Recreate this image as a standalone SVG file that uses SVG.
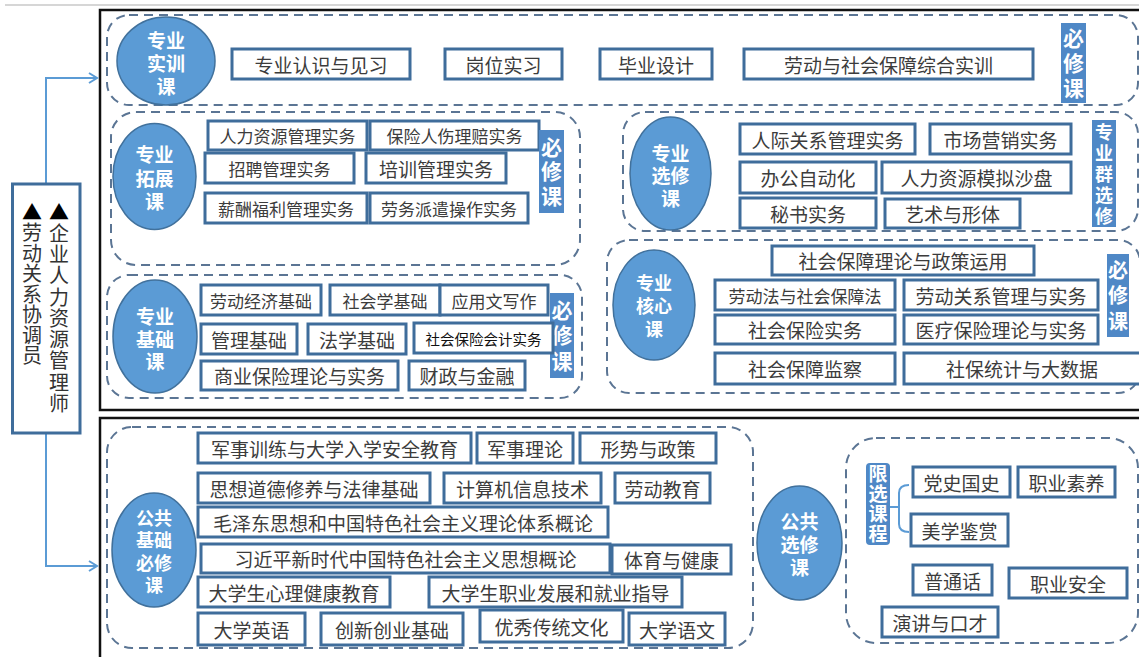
<svg xmlns="http://www.w3.org/2000/svg" width="1139" height="657" viewBox="0 0 1139 657">
<style>
.box{fill:#fff;stroke:#3f6d9b;stroke-width:3}
.grp{fill:none;stroke:#5b7594;stroke-width:2;stroke-dasharray:9 6}
.ell{fill:#5b9bd5;stroke:#41719c;stroke-width:1.5}
.lab{fill:#4f88c6}
.frame{fill:none;stroke:#111;stroke-width:2.5}
.t{font-family:"Noto Sans CJK SC","Noto Sans",sans-serif;font-size:19px;fill:#3c3c3c;text-anchor:middle;dominant-baseline:central}
.vt{font-family:"Noto Sans CJK SC","Noto Sans",sans-serif;writing-mode:vertical-rl;text-anchor:start;dominant-baseline:central}
.s17{font-size:17px}
.s14{font-size:14.5px;fill:#111}
.w{fill:#fff;font-weight:bold}
.conn{fill:none;stroke:#5b9bd5;stroke-width:2}
</style>
<defs>
<marker id="arr" markerUnits="userSpaceOnUse" markerWidth="12" markerHeight="12" refX="10" refY="6" orient="auto">
<path d="M2,1 L10,6 L2,11" fill="none" stroke="#5b9bd5" stroke-width="2"/>
</marker>
</defs>
<rect width="1139" height="657" fill="#fff"/>
<line x1="5" y1="5" x2="1139" y2="5" stroke="#d6d6d6" stroke-width="2"/>
<rect class="frame" x="100" y="10" width="1050" height="400"/>
<rect class="frame" x="100" y="418" width="1050" height="250"/>

<g id="connectors">
<polyline class="conn" points="46,207 46,78 97,78" marker-end="url(#arr)"/>
<polyline class="conn" points="46,433 46,566 97,566" marker-end="url(#arr)"/>
<path class="conn" d="M890,507 L899,507 M909,485 Q899,485 899,493 L899,524 Q899,532 909,532"/>
</g>

<g id="roles">
<rect x="12.5" y="184" width="67.5" height="249" fill="#fff" stroke="#3f6d9b" stroke-width="3"/>
<text class="vt" x="59" y="202" style="font-size:20px;letter-spacing:1.25px;fill:#333"><tspan style="fill:#000">▲</tspan>企业人力资源管理师</text>
<text class="vt" x="32" y="202" style="font-size:20px;letter-spacing:0.5px;fill:#333"><tspan style="fill:#000">▲</tspan>劳动关系协调员</text>
</g>

<!-- 专业实训课 -->
<g id="g-shixun">
<rect class="grp" x="107" y="15" width="1031" height="90" rx="22"/>
<g id="e-shixun"><ellipse class="ell" cx="166" cy="61" rx="49" ry="44"/>
<text class="t w"><tspan x="166" y="39">专业</tspan><tspan x="166" y="62">实训</tspan><tspan x="166" y="85">课</tspan></text></g>
<g id="b-zyrs"><rect class="box" x="232" y="49" width="178" height="30"/><text class="t" x="321" y="64">专业认识与见习</text></g>
<g id="b-gwsx"><rect class="box" x="445" y="49" width="117" height="30"/><text class="t" x="503.5" y="64">岗位实习</text></g>
<g id="b-bysj"><rect class="box" x="600" y="49" width="112" height="30"/><text class="t" x="656" y="64">毕业设计</text></g>
<g id="b-ldsb"><rect class="box" x="744" y="49" width="289" height="30"/><text class="t" x="888.5" y="64">劳动与社会保障综合实训</text></g>
<g id="l-shixun"><rect class="lab" x="1061" y="23" width="25" height="80"/>
<text class="vt w" x="1073.5" y="27.5" style="font-size:21px;letter-spacing:4px">必修课</text></g>
</g>

<!-- 专业拓展课 -->
<g id="g-tuozhan">
<rect class="grp" x="111" y="112" width="469" height="153" rx="25"/>
<g id="e-tuozhan"><ellipse class="ell" cx="154.5" cy="176.5" rx="41.5" ry="53"/>
<text class="t w"><tspan x="154.5" y="153">专业</tspan><tspan x="154.5" y="177">拓展</tspan><tspan x="154.5" y="200">课</tspan></text></g>
<g id="b-rlzy"><rect class="box" x="208" y="121" width="159" height="29"/><text class="t s17" x="287.5" y="135.5">人力资源管理实务</text></g>
<g id="b-bxrs"><rect class="box" x="370" y="121" width="169" height="29"/><text class="t s17" x="454.5" y="135.5">保险人伤理赔实务</text></g>
<g id="b-zpgl"><rect class="box" x="205" y="153" width="149" height="30"/><text class="t s17" x="279.5" y="168">招聘管理实务</text></g>
<g id="b-pxgl"><rect class="box" x="366" y="153" width="140" height="30"/><text class="t" x="436" y="168">培训管理实务</text></g>
<g id="b-xcfl"><rect class="box" x="205" y="193" width="162" height="30"/><text class="t s17" x="286" y="208">薪酬福利管理实务</text></g>
<g id="b-lwpq"><rect class="box" x="370" y="193" width="158" height="30"/><text class="t s17" x="449" y="208">劳务派遣操作实务</text></g>
<g id="l-tuozhan"><rect class="lab" x="539" y="130" width="25" height="83"/>
<text class="vt w" x="551.5" y="136.5" style="font-size:21px;letter-spacing:3.5px">必修课</text></g>
</g>

<!-- 专业选修课 -->
<g id="g-xuanxiu">
<rect class="grp" x="623" y="112" width="515" height="119" rx="22"/>
<g id="e-xuanxiu"><ellipse class="ell" cx="670.5" cy="173.5" rx="40.5" ry="56.5"/>
<text class="t w"><tspan x="670.5" y="152">专业</tspan><tspan x="670.5" y="174">选修</tspan><tspan x="670.5" y="197">课</tspan></text></g>
<g id="b-rjgx"><rect class="box" x="740" y="124" width="175" height="30"/><text class="t" x="827.5" y="139">人际关系管理实务</text></g>
<g id="b-scyx"><rect class="box" x="930" y="124" width="141" height="30"/><text class="t" x="1000.5" y="139">市场营销实务</text></g>
<g id="b-bgzd"><rect class="box" x="740" y="162" width="136" height="31"/><text class="t" x="808" y="177.5">办公自动化</text></g>
<g id="b-rlsp"><rect class="box" x="882" y="162" width="189" height="31"/><text class="t" x="976.5" y="177.5">人力资源模拟沙盘</text></g>
<g id="b-mssw"><rect class="box" x="740" y="198" width="136" height="30"/><text class="t" x="808" y="213">秘书实务</text></g>
<g id="b-ysxt"><rect class="box" x="885" y="199" width="135" height="29"/><text class="t" x="952.5" y="213.5">艺术与形体</text></g>
<g id="l-xuanxiu"><rect class="lab" x="1092" y="120" width="24" height="107"/>
<text class="vt w" x="1104" y="123" style="font-size:18px;letter-spacing:3px">专业群选修</text></g>
</g>

<!-- 专业基础课 -->
<g id="g-jichu">
<rect class="grp" x="107" y="275" width="475" height="123" rx="22"/>
<g id="e-jichu"><ellipse class="ell" cx="155" cy="336.5" rx="42" ry="56.5"/>
<text class="t w"><tspan x="155" y="315">专业</tspan><tspan x="155" y="338">基础</tspan><tspan x="155" y="360">课</tspan></text></g>
<g id="l-jichu"><rect class="lab" x="550" y="293" width="24" height="85"/>
<text class="vt w" x="562" y="299.5" style="font-size:21px;letter-spacing:4.5px">必修课</text></g>
<g id="b-ldjj"><rect class="box" x="201" y="285" width="120" height="30"/><text class="t s17" x="261" y="300">劳动经济基础</text></g>
<g id="b-shxj"><rect class="box" x="330" y="285" width="110" height="30"/><text class="t s17" x="385" y="300">社会学基础</text></g>
<g id="b-yywx"><rect class="box" x="440" y="285" width="108" height="30"/><text class="t s17" x="494" y="300">应用文写作</text></g>
<g id="b-gljc"><rect class="box" x="201" y="324" width="96" height="30"/><text class="t" x="249" y="339">管理基础</text></g>
<g id="b-fxjc"><rect class="box" x="308" y="324" width="98" height="30"/><text class="t" x="357" y="339">法学基础</text></g>
<g id="b-shbxkj"><rect class="box" x="414" y="323" width="139" height="30"/><text class="t s14" x="483.5" y="338">社会保险会计实务</text></g>
<g id="b-syb"><rect class="box" x="201" y="361" width="197" height="29"/><text class="t" x="299.5" y="375.5">商业保险理论与实务</text></g>
<g id="b-czjr"><rect class="box" x="409" y="361" width="116" height="29"/><text class="t" x="467" y="375.5">财政与金融</text></g>
</g>

<!-- 专业核心课 -->
<g id="g-hexin">
<rect class="grp" x="607" y="240" width="533" height="153" rx="22"/>
<g id="e-hexin"><ellipse class="ell" cx="654" cy="305" rx="41" ry="55"/>
<text class="t w" style="font-size:18px"><tspan x="654" y="282">专业</tspan><tspan x="654" y="305">核心</tspan><tspan x="654" y="328">课</tspan></text></g>
<g id="b-shbzll"><rect class="box" x="772" y="246" width="262" height="29"/><text class="t" x="903" y="260.5">社会保障理论与政策运用</text></g>
<g id="b-ldf"><rect class="box" x="715" y="280" width="180" height="30"/><text class="t s17" x="805" y="295">劳动法与社会保障法</text></g>
<g id="b-ldgx"><rect class="box" x="904" y="280" width="194" height="30"/><text class="t" x="1001" y="295">劳动关系管理与实务</text></g>
<g id="b-shbxsw"><rect class="box" x="715" y="315" width="180" height="29"/><text class="t" x="805" y="329.5">社会保险实务</text></g>
<g id="b-ylbx"><rect class="box" x="904" y="315" width="194" height="29"/><text class="t" x="1001" y="329.5">医疗保险理论与实务</text></g>
<g id="b-shbzjc"><rect class="box" x="715" y="353" width="180" height="31"/><text class="t" x="805" y="368.5">社会保障监察</text></g>
<g id="b-sbtj"><rect class="box" x="904" y="353" width="238" height="31"/><text class="t" x="1022" y="368.5">社保统计与大数据</text></g>
<g id="l-hexin"><rect class="lab" x="1107" y="254" width="22" height="83"/>
<text class="vt w" x="1118" y="260" style="font-size:20px;letter-spacing:5.5px">必修课</text></g>
</g>

<!-- 公共基础必修课 -->
<g id="g-gongji">
<rect class="grp" x="107" y="427" width="646" height="221" rx="25"/>
<g id="e-gongji"><ellipse class="ell" cx="154" cy="550" rx="42" ry="57"/>
<text class="t w" style="font-size:18px"><tspan x="154" y="517">公共</tspan><tspan x="154" y="539">基础</tspan><tspan x="154" y="562">必修</tspan><tspan x="154" y="584">课</tspan></text></g>
<g id="b-jsxl"><rect class="box" x="198" y="433" width="273" height="30"/><text class="t" x="334.5" y="448">军事训练与大学入学安全教育</text></g>
<g id="b-jsll"><rect class="box" x="477" y="433" width="96" height="30"/><text class="t" x="525" y="448">军事理论</text></g>
<g id="b-xszc"><rect class="box" x="580" y="433" width="136" height="30"/><text class="t" x="648" y="448">形势与政策</text></g>
<g id="b-sxdd"><rect class="box" x="198" y="473" width="232" height="30"/><text class="t" x="314" y="488">思想道德修养与法律基础</text></g>
<g id="b-jsj"><rect class="box" x="444" y="473" width="157" height="30"/><text class="t" x="522.5" y="488">计算机信息技术</text></g>
<g id="b-ldjy"><rect class="box" x="615" y="473" width="95" height="30"/><text class="t" x="662.5" y="488">劳动教育</text></g>
<g id="b-mzd"><rect class="box" x="198" y="507" width="410" height="30"/><text class="t" x="403" y="522">毛泽东思想和中国特色社会主义理论体系概论</text></g>
<g id="b-xjp"><rect class="box" x="201" y="544" width="409" height="29"/><text class="t" x="405.5" y="558.5">习近平新时代中国特色社会主义思想概论</text></g>
<g id="b-tyjk"><rect class="box" x="612" y="545" width="119" height="29"/><text class="t" x="671.5" y="559.5">体育与健康</text></g>
<g id="b-xljk"><rect class="box" x="198" y="577" width="192" height="30"/><text class="t" x="294" y="592">大学生心理健康教育</text></g>
<g id="b-zyfz"><rect class="box" x="429" y="577" width="253" height="30"/><text class="t" x="555.5" y="592">大学生职业发展和就业指导</text></g>
<g id="b-dxyy"><rect class="box" x="198" y="613" width="107" height="32"/><text class="t" x="251.5" y="629">大学英语</text></g>
<g id="b-cxcy"><rect class="box" x="321" y="613" width="142" height="32"/><text class="t" x="392" y="629">创新创业基础</text></g>
<g id="b-yxct"><rect class="box" x="480" y="610" width="143" height="32"/><text class="t" x="551.5" y="626">优秀传统文化</text></g>
<g id="b-dxyw"><rect class="box" x="629" y="613" width="96" height="32"/><text class="t" x="677" y="629">大学语文</text></g>
</g>

<!-- 公共选修课 -->
<g id="g-gongxuan">
<rect class="grp" x="846" y="438" width="292" height="205" rx="30"/>
<g id="e-gongxuan"><ellipse class="ell" cx="799.5" cy="543" rx="42.5" ry="57"/>
<text class="t w"><tspan x="799.5" y="520">公共</tspan><tspan x="799.5" y="543">选修</tspan><tspan x="799.5" y="566">课</tspan></text></g>
<g id="l-xianxuan"><rect class="lab" x="866" y="463" width="24" height="82" rx="4"/>
<text class="vt w" x="878" y="464.5" style="font-size:19px;letter-spacing:1px">限选课程</text></g>
<g id="b-dsgs"><rect class="box" x="913" y="467" width="97" height="30"/><text class="t" x="961.5" y="482">党史国史</text></g>
<g id="b-zysy"><rect class="box" x="1018" y="467" width="97" height="30"/><text class="t" x="1066.5" y="482">职业素养</text></g>
<g id="b-mxjs"><rect class="box" x="911" y="514" width="97" height="32"/><text class="t" x="959.5" y="530">美学鉴赏</text></g>
<g id="b-pth"><rect class="box" x="913" y="565" width="79" height="30"/><text class="t" x="952.5" y="580">普通话</text></g>
<g id="b-zyaq"><rect class="box" x="1009" y="568" width="118" height="30"/><text class="t" x="1068" y="583">职业安全</text></g>
<g id="b-yjkc"><rect class="box" x="882" y="607" width="116" height="30"/><text class="t" x="940" y="622">演讲与口才</text></g>
</g>
</svg>
